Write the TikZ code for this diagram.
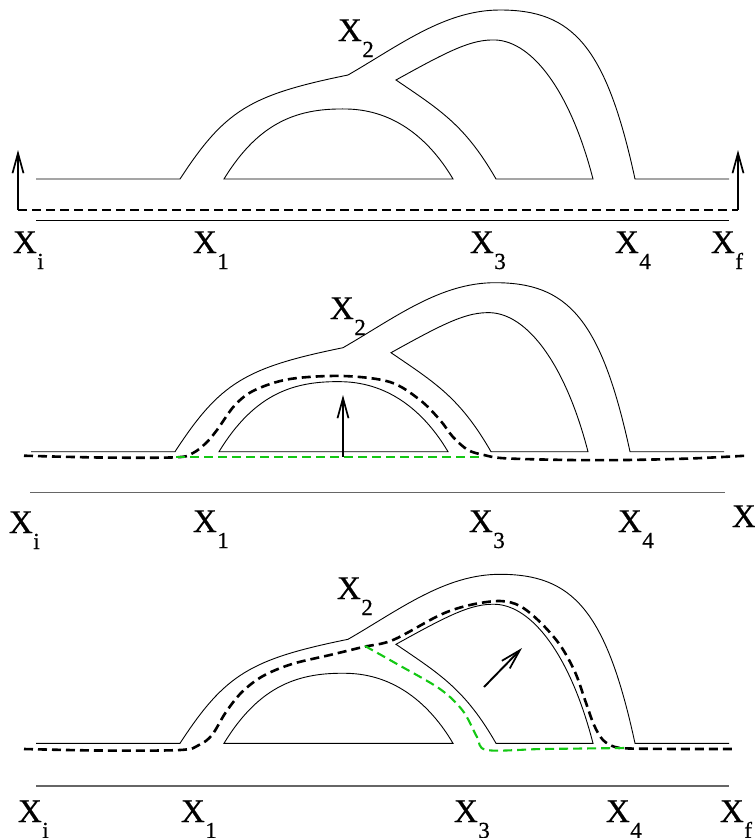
\documentclass[tikz,border=0pt]{standalone}
\usepackage{fontspec}
\setmainfont{Liberation Serif}
\newfontfamily\labfont[FakeBold=0.6]{Liberation Serif}
\usetikzlibrary{arrows.meta}
\definecolor{pathgreen}{RGB}{20,200,20}
\newcommand{\lab}[1]{\labfont\fontsize{33}{33}\selectfont X\kern0.5pt\raisebox{-16pt}{\fontsize{23}{23}\selectfont #1}}
\newcommand{\tubeshape}{%
  \draw[thinline] (36,179) -- (180,179) .. controls (225,110) and (250,95) .. (348,75)
     .. controls (400,45) and (445,10) .. (500,10) .. controls (572,10) and (606,45) .. (635,179) -- (729,179);
  \draw[thinline] (224,179) .. controls (260,120) and (300,108) .. (347,109)
     .. controls (395,110) and (430,140) .. (453,179) -- cycle;
  \draw[thinline] (496,179) .. controls (465,125) and (440,110) .. (396,80)
     .. controls (450,50) and (472,39) .. (496,40) .. controls (532,42) and (570,90) .. (593,179) -- cycle;
}
\begin{document}
\begin{tikzpicture}[x=1pt,y=-1pt,
  thinline/.style={line width=0.9pt},
  groundline/.style={line width=1.1pt},
  greyground/.style={line width=1.3pt, black!60},
  blackdash/.style={line width=2.6pt, dash pattern=on 9pt off 5pt},
  greendash/.style={pathgreen, line width=2.1pt, dash pattern=on 9pt off 5pt},
  arr/.style={line width=1.9pt, -{Straight Barb[length=20pt,width=11pt,line width=1.7pt]}},
  lbl/.style={anchor=base west, inner sep=0pt, outer sep=0pt}]
\useasboundingbox (0,0) rectangle (755,838);

% ---------------- panel 1
\tubeshape
\draw[groundline] (36,220.5) -- (729,220.5);
\coordinate (a1s) at (18,210);
\coordinate (a1e) at (18,150);
\coordinate (a2s) at (738,210);
\coordinate (a2e) at (738,150);
\draw[blackdash] (a1s) -- (a2s);
\draw[arr] (a1s) -- (a1e);
\draw[arr] (a2s) -- (a2e);
\node[lbl] (p1x2) at (338,41) {\lab{2}};
\node[lbl] (p1xi) at (13,253) {\lab{i}};
\node[lbl] (p1x1) at (193,253) {\lab{1}};
\node[lbl] (p1x3) at (470,253) {\lab{3}};
\node[lbl] (p1x4) at (615,253) {\lab{4}};
\node[lbl] (p1xf) at (711,253) {\lab{f}};

% ---------------- panel 2
\begin{scope}[shift={(-5,272.7)}]
\tubeshape
\end{scope}
\draw[greyground] (30,492.7) -- (725,492.7);
\draw[blackdash] plot[smooth, tension=0.55] coordinates {(24,455.7) (100,457.5) (176,457.3) (193,453) (206,443) (217,430) (235,405) (255,390) (290,379) (343,376) (390,382) (420,400) (440,420) (453,437) (468,450) (484,455) (505,458.3) (570,460) (626,460) (690,458.5) (746,455.7)};
\draw[greendash] (176,456.7) -- (484,456.7);
\coordinate (b1s) at (343,456.7);
\coordinate (b1e) at (343,395);
\draw[arr] (b1s) -- (b1e);
\node[lbl] (p2x2) at (330,319) {\lab{2}};
\node[lbl] (p2xi) at (9,533) {\lab{i}};
\node[lbl] (p2x1) at (193,532) {\lab{1}};
\node[lbl] (p2x3) at (469,532) {\lab{3}};
\node[lbl] (p2x4) at (618,532) {\lab{4}};
\node[lbl] (p2xf) at (732,527) {\lab{f}};

% ---------------- panel 3
\begin{scope}[shift={(0,564.3)}]
\tubeshape
\end{scope}
\draw[greyground] (36,786) -- (729,786);
\draw[blackdash] plot[smooth, tension=0.55] coordinates {(24,749) (100,750.5) (180,750) (199,745) (212,735) (226,712) (242,692) (263,676) (292,664) (330,655) (363,647) (393,640) (440,615) (470,605) (500,601) (520,606) (540,622) (560,645) (575,672) (585,700) (594,725) (603,740) (615,747) (630,748.5) (680,749) (732,749)};
\draw[greendash] plot[smooth, tension=0.55] coordinates {(365,646) (397,664) (440,689) (463,711) (477,737) (487,750) (543,749) (626,748)};
\coordinate (c1s) at (484,687);
\coordinate (c1e) at (522,648);
\draw[arr] (c1s) -- (c1e);
\node[lbl] (p3x2) at (337,599) {\lab{2}};
\node[lbl] (p3xi) at (18,822) {\lab{i}};
\node[lbl] (p3x1) at (181,822) {\lab{1}};
\node[lbl] (p3x3) at (454,822) {\lab{3}};
\node[lbl] (p3x4) at (606,822) {\lab{4}};
\node[lbl] (p3xf) at (720,822) {\lab{f}};
\end{tikzpicture}
\end{document}
